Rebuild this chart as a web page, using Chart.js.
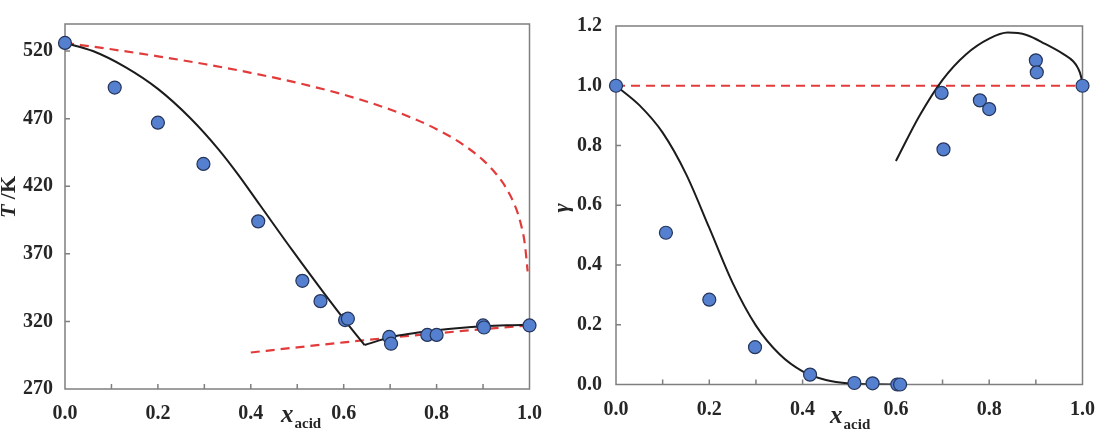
<!DOCTYPE html>
<html>
<head>
<meta charset="utf-8">
<script src="https://cdn.jsdelivr.net/npm/chart.js@4.4.1/dist/chart.umd.min.js"></script>
<style>
  html, body { margin: 0; padding: 0; background: #fff; }
  #wrap { position: relative; width: 1108px; height: 430px; overflow: hidden; }
  .panel { position: absolute; top: 0; height: 430px; }
  #left { left: 0; width: 555px; }
  #right { left: 555px; width: 553px; }
</style>
</head>
<body>
<div id="wrap">
  <div class="panel" id="left"><canvas id="chartT"></canvas></div>
  <div class="panel" id="right"><canvas id="chartG"></canvas></div>
</div>
<script>
// measured compositions (same for both panels)
const xAcid    = [0, 0.107, 0.2, 0.298, 0.416, 0.511, 0.55, 0.603, 0.609, 0.698, 0.702, 0.78, 0.8, 0.9, 0.902, 1.0];
const tExp     = [526, 493, 467, 436.5, 394, 350, 335, 321, 322, 308.5, 303.5, 310, 310, 317, 315.5, 317];
const gammaExp = [1.0, 0.508, 0.284, 0.125, 0.033, 0.005, 0.004, 0.0, 0.0, 0.976, 0.787, 0.951, 0.922, 1.085, 1.045, 1.0];

// left panel: model liquidus (solid) and ideal curves (dashed)
const tCalcX   = [0, 0.06, 0.13, 0.2, 0.27, 0.33, 0.37, 0.42, 0.49, 0.56, 0.61, 0.645];
const tCalcY   = [526, 520, 508.1, 492, 470.3, 447.5, 429.9, 405.9, 372.3, 339.8, 317.5, 302.5];
const tCalc2X  = [0.645, 0.7, 0.75, 0.8, 0.85, 0.9, 0.95, 1.0];
const tCalc2Y  = [302.5, 308.3, 311.3, 313.5, 315.2, 316.4, 317.1, 317.4];
const tIdealX  = [0, 0.1, 0.2, 0.3, 0.4, 0.5, 0.6, 0.7, 0.75, 0.8, 0.85, 0.9, 0.93, 0.95, 0.97, 0.98, 0.99, 0.996];
const tIdealY  = [526, 521.3, 516.1, 510.4, 503.9, 496.5, 487.7, 476.8, 470.1, 462.2, 452.4, 439.3, 428.4, 418.5, 404.5, 393.9, 377.2, 357];
const tIdeal2X = [0.4, 0.5, 0.6, 0.7, 0.8, 0.9, 1.0];
const tIdeal2Y = [297, 300.8, 304.5, 308, 311.2, 314.3, 317];

// right panel: activity coefficients
const gCalcX   = [0, 0.05, 0.1, 0.15, 0.2, 0.25, 0.3, 0.35, 0.4, 0.45, 0.5, 0.55, 0.6];
const gCalcY   = [1.0, 0.935, 0.843, 0.705, 0.524, 0.34, 0.197, 0.102, 0.044, 0.015, 0.003, 0.0005, 0];
const gCalc2X  = [0.6, 0.65, 0.7, 0.75, 0.8, 0.84, 0.88, 0.92, 0.96, 0.98, 0.99, 0.997, 1.0];
const gCalc2Y  = [0.748, 0.898, 1.02, 1.105, 1.158, 1.178, 1.17, 1.14, 1.105, 1.082, 1.06, 1.03, 1.0];
const gIdealX  = [0, 1];
const gIdealY  = [1, 1];

// ticks
const xTicks = [0, 0.1, 0.2, 0.3, 0.4, 0.5, 0.6, 0.7, 0.8, 0.9, 1.0];
const tTicks = [270, 320, 370, 420, 470, 520];
const gTicks = [0, 0.2, 0.4, 0.6, 0.8, 1.0, 1.2];

const SERIF = '"Liberation Serif", "Times New Roman", serif';
const TEXT = '#262626';
const AXIS_GRAY = '#7f7f7f';
const DOT_FILL = '#5580cf';
const DOT_EDGE = '#24345a';
const LINE_BLACK = '#1c1c1c';
const LINE_RED = '#e23b3b';

Chart.defaults.font.family = SERIF;
Chart.defaults.font.size = 20;
Chart.defaults.font.weight = 'bold';
Chart.defaults.color = TEXT;
Chart.defaults.animation = false;

function pts(xs, ys) {
  return xs.map((x, i) => ({ x, y: ys[i] }));
}

// box, inward tick marks, axis titles
const framePlugin = {
  id: 'frame',
  beforeDatasetsDraw(chart) {
    const { ctx, chartArea: a, scales } = chart;
    ctx.save();
    ctx.strokeStyle = AXIS_GRAY;
    ctx.lineWidth = 1.5;
    ctx.strokeRect(a.left, a.top, a.right - a.left, a.bottom - a.top);
    const len = 5;
    ctx.beginPath();
    scales.x.ticks.forEach(t => {
      if (t.value <= scales.x.min || t.value >= scales.x.max) return;
      const px = scales.x.getPixelForValue(t.value);
      ctx.moveTo(px, a.bottom);
      ctx.lineTo(px, a.bottom - len);
    });
    scales.y.ticks.forEach(t => {
      if (t.value <= scales.y.min || t.value >= scales.y.max) return;
      const py = scales.y.getPixelForValue(t.value);
      ctx.moveTo(a.left, py);
      ctx.lineTo(a.left + len, py);
    });
    ctx.stroke();
    ctx.restore();
  },
  afterDraw(chart, args, o) {
    const { ctx, chartArea: a, scales } = chart;
    ctx.save();
    ctx.fillStyle = TEXT;

    // y title (rotated)
    ctx.save();
    ctx.translate(o.yTitleX, o.yTitleY);
    ctx.rotate(-Math.PI / 2);
    ctx.textBaseline = 'middle';
    ctx.textAlign = 'left';
    const f1 = 'italic bold 22px ' + SERIF;
    const f2 = 'bold 22px ' + SERIF;
    ctx.font = f1;
    const w1 = ctx.measureText(o.yMain).width;
    ctx.font = f2;
    const w2 = o.ySuffix ? ctx.measureText(o.ySuffix).width : 0;
    const x0 = -(w1 + w2) / 2;
    ctx.font = f1;
    ctx.fillText(o.yMain, x0, 0);
    if (o.ySuffix) {
      ctx.font = f2;
      ctx.fillText(o.ySuffix, x0 + w1, 0);
    }
    ctx.restore();

    // x title: x with subscript "acid"
    const xs = scales.x.getPixelForValue(o.xTitleAt);
    const base = a.bottom + o.xTitleDy;
    ctx.textBaseline = 'alphabetic';
    ctx.textAlign = 'left';
    ctx.font = 'italic bold 25px ' + SERIF;
    ctx.fillText('x', xs, base);
    const wx = ctx.measureText('x').width;
    ctx.font = 'bold 15px ' + SERIF;
    ctx.fillText('acid', xs + wx + 1, base + 6);
    ctx.restore();
  }
};

function dots(xs, ys) {
  return {
    type: 'scatter',
    data: pts(xs, ys), showLine: false, clip: false,
    pointRadius: 6.5, pointBackgroundColor: DOT_FILL,
    pointBorderColor: DOT_EDGE, pointBorderWidth: 1.2
  };
}

function curve(xs, ys, color, dash) {
  return {
    type: 'line',
    data: pts(xs, ys), pointRadius: 0, fill: false,
    borderColor: color, borderWidth: dash ? 2.2 : 2,
    borderDash: dash || [], cubicInterpolationMode: 'monotone'
  };
}

function xScale(height) {
  return {
    type: 'linear', min: 0, max: 1,
    afterBuildTicks: s => { s.ticks = xTicks.map(v => ({ value: v })); },
    afterFit: s => { s.height = height; },
    ticks: {
      autoSkip: false, maxRotation: 0, padding: 13,
      callback: v => (Math.round(v * 10) % 2 ? '' : v.toFixed(1))
    },
    grid: { display: false, drawTicks: false, tickLength: 0 },
    border: { display: false }
  };
}

function makeChart(id, cfg) {
  return new Chart(document.getElementById(id), {
    type: 'scatter',
    data: { datasets: cfg.datasets },
    options: {
      responsive: true,
      maintainAspectRatio: false,
      events: [],
      layout: { padding: cfg.padding },
      plugins: { legend: { display: false }, tooltip: { enabled: false }, frame: cfg.frame },
      scales: {
        x: xScale(cfg.xHeight),
        y: {
          type: 'linear', min: cfg.yMin, max: cfg.yMax,
          afterBuildTicks: s => { s.ticks = cfg.yTicks.map(v => ({ value: v })); },
          afterFit: s => { s.width = cfg.yWidth; },
          ticks: { padding: cfg.yPad, callback: cfg.yFmt },
          grid: { display: false, drawTicks: false, tickLength: 0 },
          border: { display: false }
        }
      }
    },
    plugins: [framePlugin]
  });
}

makeChart('chartT', {
  datasets: [
    dots(xAcid, tExp),
    curve(tCalcX, tCalcY, LINE_BLACK),
    curve(tCalc2X, tCalc2Y, LINE_BLACK),
    curve(tIdealX, tIdealY, LINE_RED, [9, 6]),
    curve(tIdeal2X, tIdeal2Y, LINE_RED, [9, 6])
  ],
  padding: { left: 0, top: 17, right: 17, bottom: 0 },
  xHeight: 41, yWidth: 65, yPad: 12,
  yMin: 270, yMax: 540, yTicks: tTicks, yFmt: v => String(v),
  frame: { yMain: 'T', ySuffix: ' /K', yTitleX: 9, yTitleY: 197, xTitleAt: 0.465, xTitleDy: 33 }
});

makeChart('chartG', {
  datasets: [
    dots(xAcid, gammaExp),
    curve(gCalcX, gCalcY, LINE_BLACK),
    curve(gCalc2X, gCalc2Y, LINE_BLACK),
    curve(gIdealX, gIdealY, LINE_RED, [9, 6])
  ],
  padding: { left: 0, top: 15.5, right: 19, bottom: 0 },
  xHeight: 45.5, yWidth: 61, yPad: 14,
  yMin: 0, yMax: 1.2, yTicks: gTicks, yFmt: v => v.toFixed(1),
  frame: { yMain: 'γ', ySuffix: '', yTitleX: 7, yTitleY: 208, xTitleAt: 0.459, xTitleDy: 38.5 }
});
</script>
</body>
</html>
